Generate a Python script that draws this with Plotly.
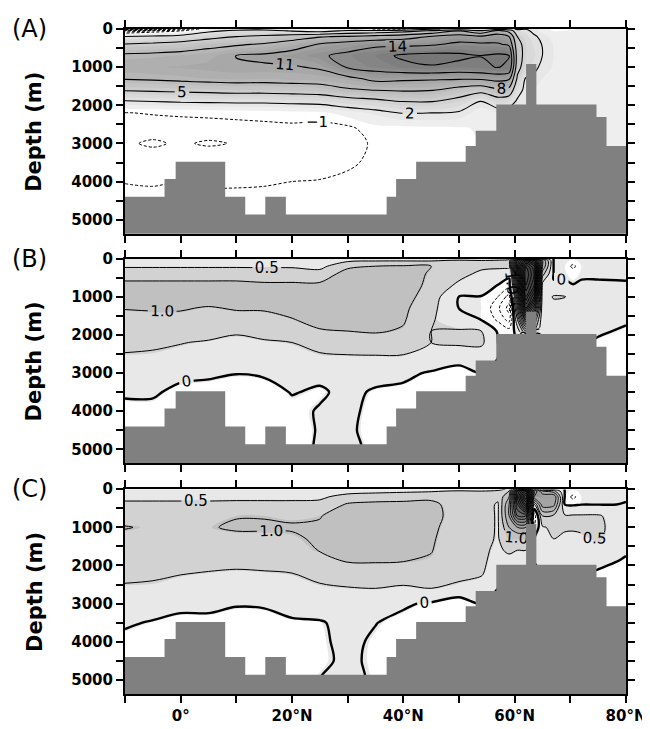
import numpy as np
import plotly.graph_objects as go

# ---------------- data ----------------
lats = [-10, -5, 0, 5, 10, 15, 20, 25, 30, 35, 40, 45, 50, 54, 57, 59, 60.5, 62, 63.5, 65, 67, 69, 70.5, 72, 75, 80]
depths = [0, 50, 200, 400, 700, 1000, 1300, 1600, 1900, 2200, 2600, 3000, 3500, 4000, 4500, 5000, 5400]

# one list per latitude (values down the depth levels), Sv
psi_a = [
    [-8, -3, 2.1, 5.1, 8.6, 9.8, 8.2, 5.2, 1.8, -1.05, -1.6, -1.9, -1.6, -1.05, -0.6, -0.3, 0],
    [-6, -2, 2.5, 5.5, 8.8, 9.9, 8.4, 5.4, 2.0, -0.9, -1.7, -2.1, -1.6, -1.1, -0.7, -0.3, 0],
    [-3, -1, 3.0, 6.0, 9.1, 10.1, 8.7, 5.6, 2.2, -0.8, -1.6, -1.9, -1.3, -1.0, -0.7, -0.3, 0],
    [0, 1.5, 4.0, 7.0, 9.6, 10.4, 9.0, 5.8, 2.3, -0.7, -1.6, -2.1, -1.4, -1.1, -0.8, -0.4, 0],
    [1, 2.5, 5.0, 7.6, 11.05, 10.8, 9.2, 6.0, 2.4, -0.6, -1.5, -1.95, -1.5, -1.1, -0.8, -0.4, 0],
    [1, 3.0, 5.5, 8.3, 11.5, 10.7, 9.1, 6.0, 2.4, -0.5, -1.4, -1.9, -1.6, -1.05, -0.85, -0.5, 0],
    [0.3, 1.8, 6.5, 9.5, 12.3, 10.7, 9.3, 6.2, 2.6, -0.4, -1.3, -1.8, -1.6, -1.0, -0.7, -0.4, 0],
    [0, 1.0, 7.8, 11.2, 13.6, 11.4, 9.5, 6.5, 2.8, -0.3, -1.5, -1.7, -1.4, -0.95, -0.6, -0.3, 0],
    [0.3, 2.5, 8.3, 12.3, 14.8, 14.3, 10.2, 7.6, 3.6, 0.5, -1.3, -1.5, -1.15, -0.8, -0.4, -0.2, 0],
    [-1.3, 3.0, 9.0, 13.3, 16.0, 15.2, 11.9, 8.1, 4.2, 1.2, -0.3, -0.8, -0.8, -0.6, -0.3, -0.1, 0],
    [-1.2, 4.0, 9.8, 13.2, 17.5, 16.2, 11.6, 8.3, 5.05, 2.1, -0.3, -0.6, -0.5, -0.3, 0, 0, 0],
    [1.5, 5.5, 11.2, 13.6, 17.9, 16.8, 11.4, 8.2, 5.1, 2.0, -0.2, -0.4, -0.4, -0.2, 0, 0, 0],
    [3.0, 8.0, 12.5, 14.6, 17.6, 16.2, 11.3, 6.8, 4.0, 1.7, -0.1, -0.2, -0.1, 0, 0, 0, 0],
    [2.5, 5.5, 11.5, 14.5, 17.05, 16.6, 11.4, 6.0, 1.8, 0.3, 0.1, 0, 0, 0, 0, 0, 0],
    [4.0, 9.0, 12.5, 14.3, 17.5, 17.1, 12.0, 7.5, 3.5, 1.0, 0.3, 0, 0, 0, 0, 0, 0],
    [3.0, 7.0, 11.0, 13.5, 17.1, 16.5, 11.5, 7.0, 3.0, 1.0, 0.3, 0, 0, 0, 0, 0, 0],
    [1.5, 3.0, 5.0, 6.0, 6.5, 6.0, 4.5, 2.8, 1.7, 0.8, 0.3, 0, 0, 0, 0, 0, 0],
    [1.9, 2.5, 3.5, 4.0, 4.0, 3.5, 1.8, 1.5, 1.2, 0.8, 0.3, 0, 0, 0, 0, 0, 0],
    [1.2, 1.5, 2.3, 2.8, 3.2, 2.5, 1.5, 1.0, 0.8, 0.5, 0.3, 0.1, 0, 0, 0, 0, 0],
    [0.3, 0.6, 1.5, 1.9, 1.98, 1.5, 1.0, 0.8, 0.6, 0.5, 0.3, 0.1, 0, 0, 0, 0, 0],
    [-0.2, -0.05, 0.6, 0.9, 1.0, 0.9, 0.7, 0.6, 0.5, 0.4, 0.3, 0.2, 0.1, 0, 0, 0, 0],
    [-0.15, 0.05, 0.55, 0.8, 0.9, 0.8, 0.65, 0.55, 0.45, 0.35, 0.25, 0.15, 0.07, 0, 0, 0, 0],
    [-0.1, 0.1, 0.5, 0.7, 0.8, 0.7, 0.6, 0.5, 0.4, 0.3, 0.2, 0.1, 0.05, 0, 0, 0, 0],
    [0.1, 0.25, 0.5, 0.65, 0.7, 0.6, 0.55, 0.45, 0.35, 0.25, 0.15, 0.08, 0.03, 0, 0, 0, 0],
    [0.3, 0.4, 0.5, 0.6, 0.6, 0.5, 0.5, 0.4, 0.3, 0.2, 0.1, 0.05, 0, 0, 0, 0, 0],
    [-0.1, 0.2, 0.4, 0.5, 0.5, 0.4, 0.4, 0.3, 0.3, 0.2, 0.1, 0.05, 0, 0, 0, 0, 0],
]

psi_b = [
    [0.1, 0.25, 0.45, 0.75, 1.15, 1.3, 1.02, 0.85, 0.75, 0.6, 0.45, 0.25, 0.05, -0.1, -0.15, -0.1, 0],
    [0.1, 0.25, 0.45, 0.75, 1.15, 1.3, 1.05, 0.85, 0.7, 0.55, 0.45, 0.25, 0.05, -0.1, -0.15, -0.1, 0],
    [0.1, 0.25, 0.45, 0.75, 1.15, 1.3, 1.05, 0.85, 0.7, 0.52, 0.35, 0.1, -0.1, -0.15, -0.15, -0.1, 0],
    [0.1, 0.25, 0.45, 0.75, 1.15, 1.3, 0.95, 0.85, 0.7, 0.45, 0.3, 0.05, -0.1, -0.15, -0.15, -0.1, 0],
    [0.1, 0.25, 0.45, 0.75, 1.15, 1.3, 1.05, 0.8, 0.55, 0.4, 0.2, 0.01, -0.15, -0.2, -0.15, -0.1, 0],
    [0.1, 0.25, 0.45, 0.7, 1.1, 1.3, 1.05, 0.85, 0.65, 0.45, 0.25, 0.05, -0.15, -0.2, -0.15, -0.1, 0],
    [0.1, 0.25, 0.45, 0.7, 1.1, 1.3, 1.2, 0.97, 0.7, 0.5, 0.35, 0.15, 0.02, -0.1, -0.15, -0.1, 0],
    [0.1, 0.25, 0.35, 0.7, 1.1, 1.35, 1.3, 1.2, 0.95, 0.6, 0.45, 0.1, -0.05, 0.03, 0.03, 0.03, 0],
    [0.15, 0.4, 0.9, 1.2, 1.4, 1.4, 1.35, 1.2, 1.0, 0.7, 0.45, 0.2, 0.1, 0.08, 0.05, 0.05, 0],
    [0.15, 0.45, 1.0, 1.2, 1.4, 1.4, 1.35, 1.2, 1.05, 0.75, 0.45, 0.15, -0.05, -0.1, -0.1, -0.05, 0],
    [0.15, 0.45, 1.05, 1.2, 1.3, 1.2, 1.1, 1.05, 0.95, 0.7, 0.45, 0.1, -0.1, -0.1, 0, 0, 0],
    [0.15, 0.45, 1.0, 0.95, 0.85, 0.75, 0.65, 0.55, 0.5, 0.5, 0.35, -0.05, -0.1, -0.1, 0, 0, 0],
    [0.2, 0.55, 0.75, 0.65, 0.4, -0.01, -0.01, 0.2, 0.55, 0.6, 0.1, -0.1, -0.1, 0, 0, 0, 0],
    [0.15, 0.5, 0.6, 0.4, 0.15, -0.01, -0.015, -0.01, 0.5, 0.6, 0.2, 0, 0, 0, 0, 0, 0],
    [0.2, 0.55, 0.6, 0.3, -0.01, -0.5, -0.9, -0.6, -0.05, 0, 0, 0, 0, 0, 0, 0, 0],
    [0.3, 0.7, 0.7, 0.2, -0.3, -1.2, -1.7, -1.2, -0.3, 0, 0, 0, 0, 0, 0, 0, 0],
    [3.0, 5.0, 5.5, 5.0, 4.0, 3.0, 2.0, 1.0, 0.2, 0, 0, 0, 0, 0, 0, 0, 0],
    [4.0, 7.0, 9.0, 9.5, 9.0, 8.0, 6.5, 4.0, 1.5, 0, 0, 0, 0, 0, 0, 0, 0],
    [3.0, 6.0, 7.5, 8.0, 7.5, 6.0, 4.0, 2.0, 1.0, 0, 0, 0, 0, 0, 0, 0, 0],
    [1.0, 2.0, 2.0, 1.2, 0.3, 0.15, 0.1, 0.1, 0.1, 0.05, 0, 0, 0, 0, 0, 0, 0],
    [-0.01, -0.01, -0.01, -0.01, 0.01, 0.55, 0.3, 0.2, 0.15, 0.1, 0.05, 0, 0, 0, 0, 0, 0],
    [-0.01, -0.01, -0.01, -0.01, 0.01, 0.52, 0.25, 0.2, 0.15, 0.1, 0.05, 0, 0, 0, 0, 0, 0],
    [-0.01, -0.03, -0.7, -0.05, 0.005, 0.3, 0.25, 0.2, 0.15, 0.1, 0.05, 0, 0, 0, 0, 0, 0],
    [-0.01, -0.01, -0.01, -0.01, 0.01, 0.25, 0.2, 0.15, 0.1, 0.05, 0, 0, 0, 0, 0, 0, 0],
    [-0.01, -0.01, -0.01, -0.01, 0.01, 0.15, 0.15, 0.1, 0.05, -0.05, -0.1, -0.1, 0, 0, 0, 0, 0],
    [-0.01, -0.01, -0.01, -0.015, 0.01, 0.1, 0.1, 0.05, -0.05, -0.1, -0.1, -0.1, 0, 0, 0, 0, 0],
]

psi_c = [
    [0.1, 0.25, 0.4, 0.58, 0.85, 1.02, 0.9, 0.8, 0.7, 0.6, 0.45, 0.25, 0.05, -0.1, -0.15, -0.1, 0],
    [0.1, 0.25, 0.4, 0.58, 0.85, 0.95, 0.88, 0.78, 0.68, 0.55, 0.45, 0.2, -0.03, -0.1, -0.15, -0.1, 0],
    [0.1, 0.25, 0.4, 0.58, 0.85, 0.93, 0.85, 0.75, 0.62, 0.52, 0.35, 0.1, -0.1, -0.15, -0.15, -0.1, 0],
    [0.1, 0.25, 0.4, 0.58, 0.9, 0.97, 0.85, 0.75, 0.62, 0.48, 0.35, 0.1, -0.1, -0.15, -0.15, -0.1, 0],
    [0.1, 0.25, 0.4, 0.6, 0.98, 1.05, 0.9, 0.75, 0.6, 0.45, 0.3, 0.03, -0.15, -0.2, -0.15, -0.1, 0],
    [0.1, 0.25, 0.4, 0.6, 0.98, 1.05, 0.9, 0.75, 0.62, 0.47, 0.3, 0.05, -0.15, -0.2, -0.1, -0.05, 0],
    [0.1, 0.25, 0.4, 0.6, 0.95, 1.03, 0.95, 0.85, 0.7, 0.5, 0.35, 0.15, -0.05, -0.1, -0.1, -0.05, 0],
    [0.1, 0.25, 0.4, 0.65, 0.98, 1.05, 1.05, 1.02, 0.8, 0.6, 0.45, 0.2, -0.03, -0.05, -0.05, 0, 0],
    [0.15, 0.3, 0.7, 1.05, 1.2, 1.25, 1.2, 1.15, 1.02, 0.7, 0.48, 0.25, 0.1, 0.08, 0.05, 0.05, 0],
    [0.15, 0.35, 0.8, 1.1, 1.2, 1.25, 1.2, 1.15, 1.03, 0.7, 0.5, 0.2, 0.01, -0.05, -0.05, -0.03, 0],
    [0.15, 0.4, 0.85, 1.1, 1.2, 1.2, 1.15, 1.1, 1.0, 0.7, 0.45, 0.05, -0.1, -0.1, 0, 0, 0],
    [0.15, 0.45, 0.9, 1.1, 1.15, 1.1, 1.05, 1.02, 0.95, 0.6, 0.5, -0.05, -0.1, -0.1, 0, 0, 0],
    [0.2, 0.55, 0.75, 0.8, 0.8, 0.75, 0.75, 0.7, 0.65, 0.6, 0.42, -0.3, -0.1, 0, 0, 0, 0],
    [0.2, 0.5, 0.65, 0.7, 0.7, 0.7, 0.65, 0.6, 0.6, 0.55, 0.3, 0, 0, 0, 0, 0, 0],
    [0.3, 0.6, 0.6, 0.45, 0.45, 0.45, 0.45, 0.4, 0.3, 0.2, 0, 0, 0, 0, 0, 0, 0],
    [0.6, 1.0, 1.5, 2.0, 2.0, 1.5, 1.0, 0.6, 0.3, 0, 0, 0, 0, 0, 0, 0, 0],
    [3.0, 5.0, 5.5, 5.0, 4.0, 2.0, 1.0, 0.5, 0.3, 0, 0, 0, 0, 0, 0, 0, 0],
    [4.0, 7.0, 8.5, 7.0, 4.0, 2.0, 1.0, 0.5, 0.3, 0, 0, 0, 0, 0, 0, 0, 0],
    [2.0, 3.0, 2.5, 0.5, -0.8, -0.5, 0, 0, 0, 0, 0, 0, 0, 0, 0, 0, 0],
    [0.5, 1.5, 2.5, 2.3, 1.0, 0.45, 0.3, 0.2, 0.1, 0, 0, 0, 0, 0, 0, 0, 0],
    [0.3, 1.2, 2.5, 2.2, 0.9, 0.6, 0.5, 0.3, 0.2, 0.1, 0, 0, 0, 0, 0, 0, 0],
    [-0.01, -0.01, -0.01, -0.01, 0.55, 0.6, 0.35, 0.2, 0.15, 0.1, 0.05, 0, 0, 0, 0, 0, 0],
    [-0.01, -0.03, -0.7, -0.05, 0.55, 0.6, 0.3, 0.2, 0.15, 0.1, 0.05, 0, 0, 0, 0, 0, 0],
    [-0.01, -0.01, -0.01, -0.01, 0.55, 0.6, 0.4, 0.25, 0.12, 0.05, 0, 0, 0, 0, 0, 0, 0],
    [-0.01, -0.01, -0.01, -0.01, 0.55, 0.6, 0.55, 0.3, 0.1, -0.05, -0.1, -0.1, 0, 0, 0, 0, 0],
    [-0.01, -0.01, -0.01, 0.005, 0.2, 0.2, 0.2, 0.05, -0.05, -0.1, -0.1, -0.1, 0, 0, 0, 0, 0],
]

# ocean-floor steps: latitude edges and depth of each step (m)
bathy_edges = [-10, -2.9, -0.9, 8.0, 11.6, 15.2, 18.9, 37.0, 38.7, 42.3, 51.2, 53.0, 56.7, 62.05, 63.9, 74.7, 76.5, 80]
bathy_a = [4400, 3930, 3480, 4400, 4865, 4400, 4865, 4400, 3930, 3480, 3070, 2670, 1980, 915, 1980, 2310, 3070]
bathy_b = [4400, 3930, 3480, 4400, 4865, 4400, 4865, 4400, 3930, 3480, 3070, 2670, 1980, 1395, 1980, 2310, 3070]
bathy_c = [4400, 3930, 3480, 4400, 4865, 4400, 4865, 4400, 3930, 3480, 3070, 2670, 1980, 915, 1980, 2310, 3070]

x_tickvals = [-10, 0, 10, 20, 30, 40, 50, 60, 70, 80]
x_ticktext = ['', '0°', '', '20°N', '', '40°N', '', '60°N', '', '80°N']
y_tickvals = [0, 500, 1000, 1500, 2000, 2500, 3000, 3500, 4000, 4500, 5000]
y_ticktext = ['0', '', '1000', '', '2000', '', '3000', '', '4000', '', '5000']
panel_labels = ['(A)', '(B)', '(C)']
depth_bottom = 5370

# ---------------- helpers ----------------
def gray(g):
    g = int(round(max(0, min(255, g))))
    return f'rgb({g},{g},{g})'

def fill_scale(start, size, end, band_gray):
    nc = int(np.floor((end + size / 1e6 - start) / size)) + 1
    stops = [[0.0, gray(255)]]
    for k in range(nc):
        stops.append([(k + 0.5) / nc, gray(band_gray(k))])
    stops.append([1.0, gray(band_gray(nc - 1))])
    return stops

def a_gray(k):
    return max(95, 245 - 7.0 * (k + 0.5))

def bc_gray(k):
    if k == 0:
        return 242
    if k == 1:
        return 221
    if k == 2:
        return 199
    return max(70, 199 - (k - 2) * 14)

LABEL_FONT = dict(family='DejaVu Sans', size=15, color='black')

fig = go.Figure()
doms = [[0.6920, 1.0], [0.3467, 0.6548], [0.0, 0.3080]]
psis = [psi_a, psi_b, psi_c]
bathys = [bathy_a, bathy_b, bathy_c]

for p in range(3):
    xa = 'x' if p == 0 else f'x{p+1}'
    ya = 'y' if p == 0 else f'y{p+1}'
    Z = np.array(psis[p], dtype=float).T
    common = dict(x=lats, y=depths, z=Z, xaxis=xa, yaxis=ya, showscale=False,
                  hoverinfo='skip', autocontour=False)
    if p == 0:
        fs, fz, fe = 0.0, 1.0, 19.0
        fig.add_trace(go.Contour(**common,
            contours=dict(start=fs, end=fe, size=fz, coloring='fill', showlines=False),
            colorscale=fill_scale(fs, fz, fe, a_gray),
            line=dict(width=0, smoothing=0.9)))
        fig.add_trace(go.Contour(**common,
            contours=dict(start=2, end=14, size=3, coloring='none', showlabels=True,
                          labelfont=LABEL_FONT, labelformat='.0f'),
            line=dict(color='black', width=1.1, smoothing=0.9)))
        fig.add_trace(go.Contour(**common,
            contours=dict(start=17, end=19, size=3, coloring='none'),
            line=dict(color='black', width=1.1, smoothing=0.9)))
        fig.add_trace(go.Contour(**common,
            contours=dict(start=-8, end=-1, size=1, coloring='none', showlabels=True,
                          labelfont=LABEL_FONT, labelformat='.0f'),
            line=dict(color='black', width=1.0, dash='3px,2px', smoothing=0.9)))
    else:
        fs, fz, fe = -0.02, 0.5, 9.98
        fig.add_trace(go.Contour(**common,
            contours=dict(start=fs, end=fe, size=fz, coloring='fill', showlines=False),
            colorscale=fill_scale(fs, fz, fe, bc_gray),
            line=dict(width=0, smoothing=0.9)))
        fig.add_trace(go.Contour(**common,
            contours=dict(start=0.5, end=1.0, size=0.5, coloring='none', showlabels=True,
                          labelfont=LABEL_FONT, labelformat='.1f'),
            line=dict(color='black', width=1.0, smoothing=0.9)))
        fig.add_trace(go.Contour(**common,
            contours=dict(start=1.5, end=10, size=0.5, coloring='none'),
            line=dict(color='black', width=0.9, smoothing=0.9)))
        fig.add_trace(go.Contour(**common,
            contours=dict(start=-3, end=-0.5, size=0.5, coloring='none'),
            line=dict(color='black', width=1.0, dash='3px,2px', smoothing=0.9)))
        fig.add_trace(go.Contour(**common,
            contours=dict(start=0, end=0.4, size=1, coloring='none', showlabels=True,
                          labelfont=LABEL_FONT, labelformat='.0f'),
            line=dict(color='black', width=2.4, smoothing=0.9)))
    # bathymetry steps
    bx, by = [bathy_edges[0]], [depth_bottom + 50]
    for i, d in enumerate(bathys[p]):
        bx += [bathy_edges[i], bathy_edges[i + 1]]
        by += [d, d]
    bx += [bathy_edges[-1]]
    by += [depth_bottom + 50]
    fig.add_trace(go.Scatter(x=bx, y=by, mode='lines', fill='toself',
                             fillcolor='#808080', line=dict(width=0, color='#808080'),
                             hoverinfo='skip', showlegend=False, xaxis=xa, yaxis=ya))

TICKFONT = dict(family='DejaVu Sans', size=15, color='black', weight='bold')
axis_common = dict(showline=True, linecolor='black', linewidth=2, mirror='ticks',
                   ticks='outside', ticklen=7, tickwidth=2, tickcolor='black',
                   showgrid=False, zeroline=False, tickfont=TICKFONT)
layout = dict(width=650, height=729, margin=dict(l=117, r=24, t=21, b=36),
              paper_bgcolor='white', plot_bgcolor='white', showlegend=False)
for p in range(3):
    xk = 'xaxis' if p == 0 else f'xaxis{p+1}'
    yk = 'yaxis' if p == 0 else f'yaxis{p+1}'
    ya = 'y' if p == 0 else f'y{p+1}'
    xa = 'x' if p == 0 else f'x{p+1}'
    layout[xk] = dict(axis_common, range=[-10, 80], anchor=ya, domain=[0, 1],
                      tickmode='array', tickvals=x_tickvals,
                      ticktext=x_ticktext if p == 2 else [''] * len(x_tickvals))
    layout[yk] = dict(axis_common, range=[depth_bottom, 0], anchor=xa, domain=doms[p],
                      tickmode='array', tickvals=y_tickvals, ticktext=y_ticktext)
fig.update_layout(**layout)

for p in range(3):
    top = doms[p][1]
    mid = (doms[p][0] + doms[p][1]) / 2
    fig.add_annotation(text=panel_labels[p], xref='paper', yref='paper',
                       x=(0 - 117) / 509, y=top, xanchor='left', yanchor='middle',
                       showarrow=False, font=dict(family='DejaVu Sans', size=24, color='black'))
    fig.add_annotation(text='Depth (m)', xref='paper', yref='paper',
                       x=(25 - 117) / 509, y=mid, xanchor='center', yanchor='middle',
                       textangle=-90, showarrow=False,
                       font=dict(family='DejaVu Sans', size=21, color='black', weight='bold'))

fig.write_html('out.html')
